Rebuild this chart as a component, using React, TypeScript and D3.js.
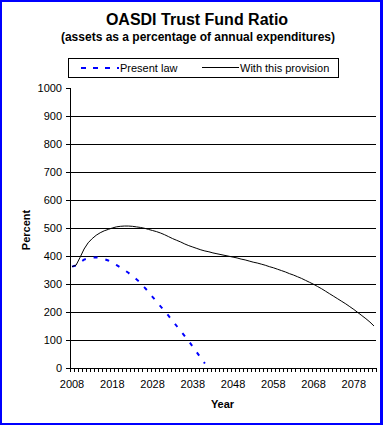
import React from "react";
import * as d3 from "d3";

const years: number[] = d3.range(2008, 2084);

const withProvision: number[] = [
  362, 367, 395, 425, 447, 462, 474, 483, 490, 495,
  500, 504, 506, 507, 507, 506, 504, 502, 499, 495,
  491, 487, 482, 476, 469, 462, 456, 450, 443, 437,
  432, 427, 422, 418, 415, 411, 408, 405, 402, 399,
  396, 393, 389, 386, 382, 378, 375, 371, 367, 362,
  358, 353, 348, 343, 337, 332, 326, 320, 313, 306,
  299, 291, 283, 274, 265, 256, 247, 238, 229, 219,
  209, 198, 187, 176, 164, 150,
];

const presentLaw: number[] = [
  362, 366, 378, 387, 392, 395, 395, 393, 389, 384,
  377, 368, 359, 350, 340, 328, 317, 305, 288, 272,
  254, 237, 220, 204, 186, 168, 150, 132, 114, 96,
  76, 56, 36, 16,
];

const yTicks: number[] = [0, 100, 200, 300, 400, 500, 600, 700, 800, 900, 1000];
const xLabelYears: number[] = [2008, 2018, 2028, 2038, 2048, 2058, 2068, 2078];

const title = "OASDI Trust Fund Ratio";
const subtitle = "(assets as a percentage of annual expenditures)";
const seriesNames = ["Present law", "With this provision"];

const W = 383;
const H = 425;
const FONT = "'Liberation Sans', Arial, sans-serif";

export default function App() {
  const x = d3.scaleLinear().domain([2007.5, 2083.5]).range([70, 376]);
  const y = d3.scaleLinear().domain([0, 1000]).range([368, 88]);

  const line = d3
    .line<[number, number]>()
    .x((d) => x(d[0]))
    .y((d) => y(d[1]));

  const wpData: [number, number][] = withProvision.map((v, i) => [years[i], v]);
  const plData: [number, number][] = presentLaw.map((v, i) => [years[i], v]);

  const crisp = (v: number) => Math.round(v) + 0.5;
  const xTickPos = d3.range(2007.5, 2084, 1);

  return (
    <svg
      width={W}
      height={H}
      style={{ position: "absolute", left: 0, top: 0, display: "block" }}
      fontFamily={FONT}
    >
      <rect x={0} y={0} width={W} height={H} fill="#0000ff" />
      <rect x={2} y={2} width={378} height={421} fill="#ffffff" />

      <text x={197} y={25} textAnchor="middle" fontSize={16} fontWeight="bold" fill="#000">
        {title}
      </text>
      <text x={198} y={41} textAnchor="middle" fontSize={12} fontWeight="bold" fill="#000">
        {subtitle}
      </text>

      {/* legend */}
      <rect x={68.5} y={58.5} width={270} height={19} fill="none" stroke="#000" strokeWidth={1} />
      <line x1={81} x2={119} y1={68} y2={68} stroke="#0000ff" strokeWidth={2} strokeDasharray="5,7" />
      <text x={120} y={72} fontSize={11} fill="#000">{seriesNames[0]}</text>
      <line x1={202} x2={239} y1={67.5} y2={67.5} stroke="#000" strokeWidth={1} />
      <text x={240} y={72} fontSize={11} fill="#000">{seriesNames[1]}</text>

      {/* gridlines */}
      {yTicks.filter((t) => t > 0 && t < 1000).map((t) => (
        <line key={"g" + t} x1={70} x2={376} y1={crisp(y(t))} y2={crisp(y(t))} stroke="#000" strokeWidth={1} />
      ))}

      {/* y axis */}
      <line x1={70.5} x2={70.5} y1={y(1000)} y2={y(0) + 1} stroke="#000" strokeWidth={1} />
      {yTicks.map((t) => (
        <g key={"y" + t}>
          <line x1={66} x2={70} y1={crisp(y(t))} y2={crisp(y(t))} stroke="#000" strokeWidth={1} />
          <text x={62} y={y(t) + 4} textAnchor="end" fontSize={11} fill="#000">
            {t}
          </text>
        </g>
      ))}

      {/* x axis */}
      <line x1={70} x2={377} y1={crisp(y(0))} y2={crisp(y(0))} stroke="#000" strokeWidth={1} />
      {xTickPos.map((t) => (
        <line key={"xt" + t} x1={crisp(x(t))} x2={crisp(x(t))} y1={368} y2={372} stroke="#000" strokeWidth={1} />
      ))}
      {xLabelYears.map((yr) => (
        <text key={"xl" + yr} x={x(yr)} y={388} textAnchor="middle" fontSize={11} fill="#000">
          {yr}
        </text>
      ))}

      <text x={222.5} y={408} textAnchor="middle" fontSize={11} fontWeight="bold" fill="#000">
        Year
      </text>
      <text
        transform="translate(30,230) rotate(-90)"
        textAnchor="middle"
        fontSize={11}
        fontWeight="bold"
        fill="#000"
      >
        Percent
      </text>

      {/* series */}
      <path d={line(plData) ?? ""} fill="none" stroke="#0000ff" strokeWidth={2} strokeDasharray="4,8" />
      <path d={line(wpData) ?? ""} fill="none" stroke="#000" strokeWidth={1} />
    </svg>
  );
}
